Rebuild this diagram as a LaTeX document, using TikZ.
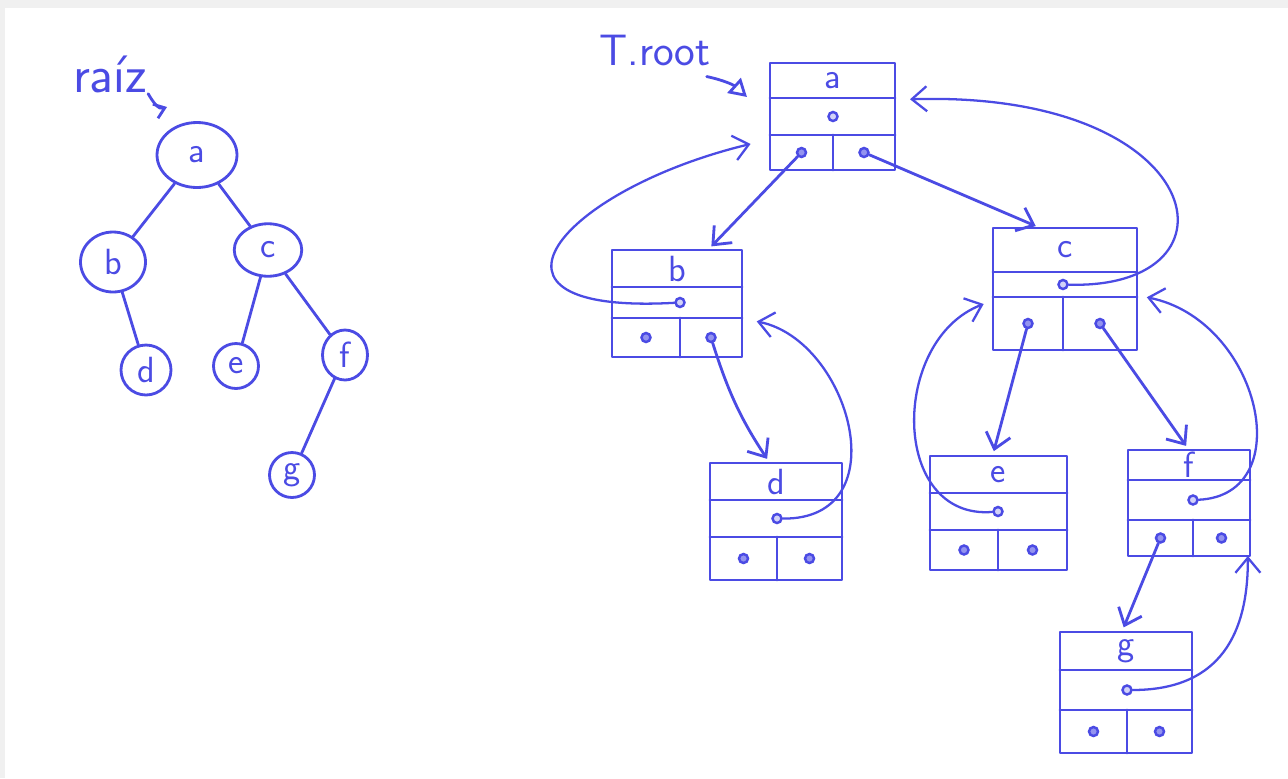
\documentclass[tikz,border=0pt]{standalone}
\usepackage{tikz}
\usetikzlibrary{arrows.meta,shapes.geometric}

\definecolor{penblue}{RGB}{75,75,228}

% record: name, top left x y, bottom right x y, row lines y y, split x, key
\newcommand{\record}[9]{%
  \pgfmathsetmacro\recw{(#4-#2)*0.02}%
  \pgfmathsetmacro\rech{(#5-#3)*0.02}%
  \node[rec, minimum width=\recw cm, minimum height=\rech cm] (#1) at ({(#2+#4)/2},{(#3+#5)/2}) {};
  \draw[pen] (#2,#6) -- (#4,#6) (#2,#7) -- (#4,#7) (#8,#7) -- (#8,#5);
  \node[key] (#1-k) at ({(#2+#4)/2},{(#3+#6)/2}) {#9};
  \node[ptr] (#1-p) at (#8,{(#6+#7)/2}) {};
  \node[ptr, fill=penblue!60] (#1-l) at ({(#2+#8)/2},{(#7+#5)/2}) {};
  \node[ptr, fill=penblue!60] (#1-r) at ({(#8+#4)/2},{(#7+#5)/2}) {};
}

\begin{document}
\begin{tikzpicture}[x=0.02cm, y=-0.02cm, every node/.style={font=\sffamily},
	>={Straight Barb[length=3mm,width=5mm]},
	pen/.style={draw=penblue, line width=1.6pt, line cap=round, line join=round},
	tnode/.style={pen, ellipse, inner sep=0pt, text=penblue, font=\huge\sffamily},
	rec/.style={pen, rectangle, inner sep=0pt, outer sep=0pt},
	key/.style={text=penblue, font=\huge\sffamily, inner sep=0pt},
	ptr/.style={circle, draw=penblue, line width=1.4pt, fill=penblue!25, minimum size=1.8mm, inner sep=0pt},
	link/.style={pen, ->, shorten >=1mm},
	uplink/.style={draw=penblue, line width=1.3pt, line cap=round, ->}]
	\fill[black!6] (0,0) rectangle (1288,778);
	\fill[white] (5,8) rectangle (1288,778);
	\useasboundingbox (0,0) rectangle (1288,778);

	% the tree
	\node[text=penblue, font=\fontsize{30}{34}\sffamily] (raiz) at (110,74) {raíz};
	\coordinate (raiz-tip) at (167,107);
	\node[tnode, minimum width=1.6cm, minimum height=1.3cm] (ta) at (197,155) {a};
	\node[tnode, minimum width=1.3cm, minimum height=1.2cm] (tb) at (113,262) {b};
	\node[tnode, minimum width=1.35cm, minimum height=1.05cm] (tc) at (268,250) {c};
	\node[tnode, minimum width=1.0cm, minimum height=1.0cm] (td) at (146,370) {d};
	\node[tnode, minimum width=0.9cm, minimum height=0.9cm] (te) at (236,366) {e};
	\node[tnode, minimum width=0.9cm, minimum height=1.0cm] (tf) at (345,355) {f};
	\node[tnode, minimum width=0.9cm, minimum height=0.9cm] (tg) at (292,475) {g};
	\draw[pen] (ta) -- (tb) (ta) -- (tc) (tb) -- (td) (tc) -- (te) (tc) -- (tf) (tf) -- (tg);
	\draw[pen, -{Straight Barb[length=2mm,width=3mm]}] ([xshift=-1mm,yshift=1mm]raiz.south east) to[out=-60, in=200] (raiz-tip);

	% the same tree as linked records
	\node[text=penblue, font=\fontsize{25}{30}\sffamily] (troot) at (655,50) {T.root};
	\coordinate (root-tip) at (747,97);
	\record{ra}{770}{63}{895}{170}{98}{135}{833}{a}
	\record{rb}{612}{250}{742}{357}{287}{318}{680}{b}
	\record{rc}{993}{228}{1137}{350}{272}{297}{1063}{c}
	\record{rd}{710}{463}{842}{580}{500}{537}{777}{d}
	\record{re}{930}{456}{1067}{570}{493}{530}{998}{e}
	\record{rf}{1128}{450}{1250}{556}{480}{520}{1193}{f}
	\record{rg}{1060}{632}{1192}{753}{670}{710}{1127}{g}
	\draw[pen, -{Triangle[open,length=3.5mm,width=4mm]}] ([xshift=-2mm,yshift=-1mm]troot.south east) to[bend left=15] (root-tip);

	% left and right children
	\draw[link] (ra-l) -- (rb.60);
	\draw[link] (ra-r) -- (rc.112);
	\draw[link] (rb-r) to[bend right=8] (rd.96);
	\draw[link] (rc-l) -- (re.96);
	\draw[link] (rc-r) -- (rf.north);
	\draw[link] (rf-l) -- (rg.94);

	% parents
	\draw[uplink, shorten >=4mm] (rb-p) .. controls (455,315) and (560,190) .. (ra.200);
	\draw[uplink, shorten >=3mm] (rc-p) .. controls (1250,290) and (1210,90) .. (ra.15);
	\draw[uplink, shorten >=3mm] (rd-p) .. controls (900,520) and (850,340) .. (rb.-13);
	\draw[uplink, shorten >=2mm] (re-p) .. controls (890,520) and (890,340) .. (rc.189);
	\draw[uplink, shorten >=2mm] (rf-p) .. controls (1300,495) and (1260,320) .. (rc.-5);
	\draw[uplink] (rg-p) .. controls (1230,690) and (1248,620) .. (rf.-42);
\end{tikzpicture}
\end{document}
